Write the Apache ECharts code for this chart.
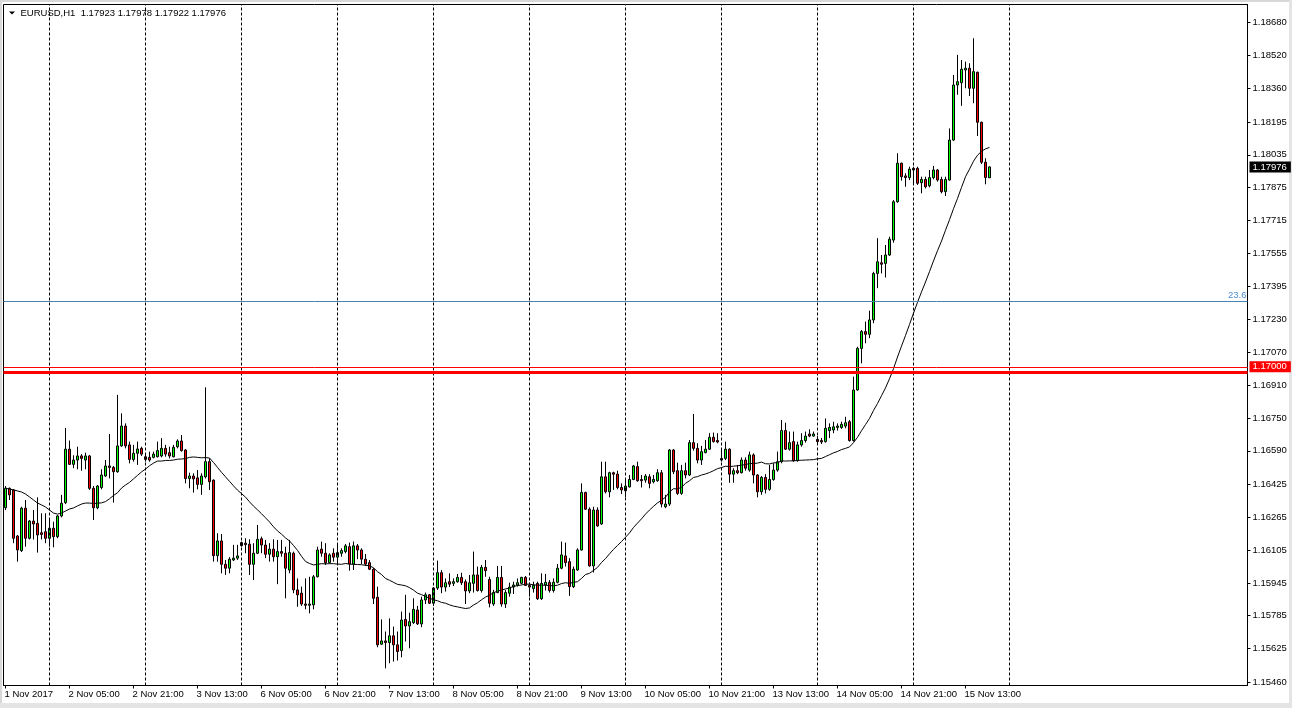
<!DOCTYPE html>
<html><head><meta charset="utf-8">
<script src="https://cdn.jsdelivr.net/npm/echarts@6/dist/echarts.min.js"></script>
<style>html,body{margin:0;padding:0;background:#fff;overflow:hidden}#chart{width:1292px;height:708px}</style>
</head><body><div id="chart"></div>
<script>
const TITLE = 'EURUSD,H1  1.17923 1.17978 1.17922 1.17976';
const OPEN = [1.16312,1.16407,1.16399,1.16174,1.16103,1.16310,1.16163,1.16247,1.16236,1.16190,1.16195,1.16163,1.16212,1.16171,1.16272,1.16337,1.16598,1.16524,1.16545,1.16565,1.16545,1.16565,1.16407,1.16312,1.16411,1.16467,1.16516,1.16509,1.16488,1.16614,1.16711,1.16619,1.16548,1.16578,1.16602,1.16561,1.16558,1.16558,1.16561,1.16565,1.16602,1.16581,1.16561,1.16610,1.16638,1.16594,1.16455,1.16467,1.16458,1.16426,1.16463,1.16537,1.16447,1.16078,1.16150,1.16036,1.16017,1.16057,1.16066,1.16142,1.16139,1.16134,1.16036,1.16090,1.16161,1.16130,1.16085,1.16110,1.16073,1.16098,1.16090,1.16008,1.16090,1.15911,1.15895,1.15842,1.15836,1.15838,1.15975,1.16110,1.16090,1.16044,1.16090,1.16071,1.16090,1.16098,1.16122,1.16037,1.16126,1.16106,1.16061,1.16044,1.16012,1.15875,1.15646,1.15662,1.15654,1.15687,1.15643,1.15615,1.15767,1.15735,1.15751,1.15813,1.15745,1.15862,1.15887,1.15846,1.15920,1.15995,1.15925,1.15951,1.15943,1.15951,1.15972,1.15951,1.15906,1.15943,1.15984,1.15908,1.16021,1.15962,1.15842,1.15898,1.15972,1.15842,1.15895,1.15925,1.15935,1.15943,1.15972,1.15933,1.15917,1.15943,1.15868,1.15935,1.15948,1.15908,1.15948,1.16017,1.16077,1.16049,1.15927,1.16008,1.16106,1.16387,1.16305,1.16028,1.16301,1.16233,1.16463,1.16390,1.16483,1.16476,1.16411,1.16395,1.16414,1.16450,1.16513,1.16450,1.16447,1.16463,1.16439,1.16444,1.16483,1.16317,1.16330,1.16594,1.16493,1.16382,1.16493,1.16472,1.16630,1.16602,1.16545,1.16581,1.16598,1.16656,1.16640,1.16553,1.16553,1.16598,1.16476,1.16493,1.16483,1.16545,1.16496,1.16570,1.16472,1.16390,1.16460,1.16402,1.16450,1.16496,1.16537,1.16689,1.16598,1.16635,1.16542,1.16619,1.16640,1.16672,1.16662,1.16646,1.16640,1.16635,1.16689,1.16692,1.16704,1.16704,1.16711,1.16732,1.16640,1.16887,1.17090,1.17172,1.17159,1.17229,1.17456,1.17508,1.17505,1.17546,1.17619,1.17806,1.17994,1.17932,1.17924,1.17969,1.17969,1.17899,1.17915,1.17884,1.17924,1.17961,1.17915,1.17855,1.17912,1.18107,1.18376,1.18387,1.18449,1.18458,1.18360,1.18438,1.18194,1.17999,1.17923];
const HIGH = [1.16418,1.16411,1.16403,1.16179,1.16317,1.16350,1.16252,1.16301,1.16363,1.16285,1.16285,1.16255,1.16244,1.16277,1.16375,1.16702,1.16640,1.16568,1.16610,1.16574,1.16581,1.16570,1.16418,1.16423,1.16500,1.16545,1.16672,1.16516,1.16863,1.16773,1.16724,1.16635,1.16619,1.16635,1.16610,1.16574,1.16586,1.16586,1.16635,1.16652,1.16619,1.16610,1.16619,1.16646,1.16667,1.16598,1.16483,1.16480,1.16496,1.16480,1.16900,1.16553,1.16450,1.16187,1.16184,1.16057,1.16071,1.16131,1.16131,1.16147,1.16163,1.16158,1.16139,1.16228,1.16171,1.16155,1.16139,1.16158,1.16155,1.16155,1.16122,1.16155,1.16098,1.15967,1.15927,1.15967,1.15975,1.15984,1.16122,1.16147,1.16139,1.16090,1.16114,1.16139,1.16114,1.16135,1.16142,1.16147,1.16135,1.16114,1.16086,1.16057,1.16017,1.15927,1.15767,1.15708,1.15772,1.15732,1.15708,1.15805,1.15887,1.15800,1.15870,1.15833,1.15878,1.15898,1.15891,1.15925,1.16054,1.16008,1.15967,1.15992,1.15967,1.15989,1.15995,1.15962,1.15984,1.16098,1.16025,1.16033,1.16057,1.15975,1.15911,1.16028,1.16028,1.15911,1.15946,1.15951,1.15967,1.15975,1.15979,1.15946,1.15951,1.15951,1.15992,1.15989,1.15959,1.15967,1.16037,1.16147,1.16142,1.16066,1.16025,1.16114,1.16431,1.16390,1.16314,1.16317,1.16314,1.16537,1.16537,1.16488,1.16488,1.16493,1.16431,1.16455,1.16472,1.16521,1.16537,1.16472,1.16476,1.16476,1.16472,1.16500,1.16496,1.16375,1.16598,1.16598,1.16532,1.16521,1.16532,1.16643,1.16770,1.16627,1.16614,1.16643,1.16676,1.16679,1.16676,1.16602,1.16635,1.16602,1.16505,1.16521,1.16558,1.16558,1.16586,1.16578,1.16476,1.16467,1.16476,1.16521,1.16529,1.16586,1.16740,1.16727,1.16684,1.16684,1.16635,1.16676,1.16684,1.16695,1.16684,1.16662,1.16653,1.16748,1.16724,1.16732,1.16724,1.16732,1.16756,1.16740,1.16952,1.17098,1.17180,1.17221,1.17274,1.17464,1.17628,1.17546,1.17595,1.17635,1.17814,1.18043,1.17997,1.17945,1.17977,1.17977,1.17977,1.17928,1.17928,1.17961,1.17981,1.17965,1.17928,1.17928,1.18164,1.18425,1.18523,1.18498,1.18490,1.18482,1.18604,1.18441,1.18197,1.18018,1.17978];
const LOW = [1.16301,1.16350,1.16139,1.16049,1.16096,1.16122,1.16157,1.16157,1.16093,1.16157,1.16139,1.16122,1.16119,1.16163,1.16265,1.16330,1.16521,1.16505,1.16500,1.16493,1.16500,1.16399,1.16252,1.16305,1.16402,1.16463,1.16455,1.16337,1.16483,1.16610,1.16602,1.16529,1.16537,1.16521,1.16565,1.16537,1.16537,1.16553,1.16558,1.16558,1.16561,1.16553,1.16558,1.16602,1.16586,1.16431,1.16407,1.16386,1.16402,1.16375,1.16455,1.16399,1.16049,1.16049,1.15992,1.15984,1.15992,1.16052,1.16057,1.16122,1.16090,1.15984,1.15959,1.16086,1.16090,1.16066,1.16049,1.16049,1.15939,1.16073,1.15870,1.15992,1.15895,1.15829,1.15833,1.15816,1.15797,1.15816,1.15972,1.16073,1.16033,1.16041,1.16049,1.16041,1.16073,1.16090,1.16005,1.16008,1.16061,1.16037,1.16028,1.16008,1.15842,1.15631,1.15643,1.15528,1.15553,1.15561,1.15566,1.15582,1.15659,1.15626,1.15745,1.15740,1.15729,1.15842,1.15842,1.15833,1.15911,1.15895,1.15903,1.15925,1.15930,1.15946,1.15935,1.15842,1.15895,1.15898,1.15903,1.15898,1.15975,1.15826,1.15833,1.15895,1.15829,1.15823,1.15878,1.15891,1.15927,1.15939,1.15930,1.15878,1.15898,1.15862,1.15862,1.15908,1.15898,1.15898,1.15943,1.16012,1.16025,1.15882,1.15920,1.16005,1.16103,1.16301,1.16025,1.15996,1.16220,1.16228,1.16382,1.16363,1.16399,1.16402,1.16379,1.16363,1.16411,1.16447,1.16439,1.16411,1.16434,1.16407,1.16431,1.16439,1.16314,1.16310,1.16321,1.16476,1.16375,1.16375,1.16455,1.16467,1.16591,1.16529,1.16521,1.16578,1.16594,1.16630,1.16627,1.16537,1.16545,1.16434,1.16434,1.16476,1.16480,1.16493,1.16488,1.16431,1.16363,1.16375,1.16382,1.16395,1.16444,1.16488,1.16529,1.16594,1.16591,1.16537,1.16537,1.16610,1.16630,1.16656,1.16659,1.16627,1.16623,1.16630,1.16652,1.16676,1.16689,1.16697,1.16700,1.16635,1.16635,1.16884,1.17017,1.17115,1.17140,1.17213,1.17384,1.17456,1.17436,1.17541,1.17606,1.17801,1.17909,1.17879,1.17912,1.17888,1.17888,1.17847,1.17871,1.17876,1.17915,1.17904,1.17847,1.17834,1.17909,1.18104,1.18328,1.18274,1.18360,1.18322,1.18287,1.18127,1.17990,1.17891,1.17922];
const CLOSE = [1.16407,1.16375,1.16163,1.16106,1.16310,1.16163,1.16247,1.16233,1.16179,1.16182,1.16163,1.16212,1.16171,1.16272,1.16334,1.16598,1.16524,1.16545,1.16565,1.16553,1.16565,1.16407,1.16312,1.16418,1.16472,1.16516,1.16509,1.16488,1.16614,1.16711,1.16614,1.16548,1.16578,1.16599,1.16574,1.16548,1.16545,1.16574,1.16591,1.16602,1.16574,1.16565,1.16607,1.16638,1.16591,1.16455,1.16467,1.16453,1.16426,1.16467,1.16537,1.16439,1.16078,1.16150,1.16036,1.16017,1.16061,1.16066,1.16077,1.16127,1.16132,1.16036,1.16090,1.16158,1.16130,1.16085,1.16110,1.16073,1.16098,1.16090,1.16017,1.16093,1.15911,1.15887,1.15842,1.15836,1.15842,1.15975,1.16106,1.16090,1.16044,1.16082,1.16071,1.16093,1.16103,1.16126,1.16037,1.16126,1.16106,1.16061,1.16037,1.16012,1.15870,1.15643,1.15662,1.15654,1.15687,1.15643,1.15610,1.15764,1.15735,1.15756,1.15816,1.15745,1.15862,1.15887,1.15846,1.15920,1.15995,1.15925,1.15946,1.15939,1.15951,1.15972,1.15946,1.15906,1.15946,1.15984,1.15908,1.16021,1.16005,1.15846,1.15898,1.15972,1.15842,1.15898,1.15925,1.15935,1.15946,1.15972,1.15933,1.15925,1.15933,1.15868,1.15943,1.15948,1.15908,1.15948,1.16017,1.16082,1.16044,1.15927,1.16012,1.16106,1.16387,1.16305,1.16028,1.16301,1.16223,1.16463,1.16390,1.16483,1.16476,1.16411,1.16399,1.16418,1.16450,1.16516,1.16444,1.16444,1.16467,1.16431,1.16450,1.16483,1.16330,1.16330,1.16594,1.16488,1.16382,1.16493,1.16472,1.16630,1.16602,1.16545,1.16586,1.16598,1.16656,1.16635,1.16633,1.16545,1.16598,1.16476,1.16493,1.16483,1.16545,1.16505,1.16570,1.16472,1.16390,1.16460,1.16402,1.16450,1.16496,1.16537,1.16689,1.16598,1.16630,1.16542,1.16619,1.16640,1.16662,1.16662,1.16672,1.16635,1.16633,1.16700,1.16704,1.16707,1.16711,1.16719,1.16727,1.16640,1.16887,1.17090,1.17172,1.17159,1.17229,1.17456,1.17513,1.17501,1.17546,1.17623,1.17806,1.17994,1.17928,1.17924,1.17965,1.17961,1.17896,1.17915,1.17879,1.17924,1.17961,1.17912,1.17855,1.17915,1.18107,1.18376,1.18392,1.18453,1.18458,1.18360,1.18441,1.18194,1.17999,1.17924,1.17976];
// Moving average (24) as drawn on the chart for the first bars (history before the visible window)
const MA_PERIOD = 24;
const MA_LEAD = [1.16408,1.16403,1.16399,1.16394,1.16389,1.16379,1.16365,1.16350,1.16335,1.16326,1.16316,1.16301,1.16286,1.16281,1.16286,1.16296,1.16306,1.16311,1.16321,1.16330,1.16335,1.16335,1.16333];
const X_LABELS = ['1 Nov 2017','2 Nov 05:00','2 Nov 21:00','3 Nov 13:00','6 Nov 05:00','6 Nov 21:00','7 Nov 13:00','8 Nov 05:00','8 Nov 21:00','9 Nov 13:00','10 Nov 05:00','10 Nov 21:00','13 Nov 13:00','14 Nov 05:00','14 Nov 21:00','15 Nov 13:00'];
const X_LABEL_STEP = 16;
const Y_TICKS = [1.15460,1.15625,1.15785,1.15945,1.16105,1.16265,1.16425,1.16590,1.16750,1.16910,1.17070,1.17230,1.17395,1.17555,1.17715,1.17875,1.18035,1.18195,1.18360,1.18520,1.18680];
const Y_MIN = 1.154443, Y_MAX = 1.187689;
const DAY_STARTS = [11,35,59,83,107,131,155,179,203,227,251];
const FIBO_236 = 1.17321;
const LEVEL_1700 = 1.17000;
const LEVEL_THICK = 1.16975;
const BID = 1.17976;
const TOTAL_SLOTS = 311;

const CATEGORIES = [];
(function(){
  const mon = ['Jan','Feb','Mar','Apr','May','Jun','Jul','Aug','Sep','Oct','Nov','Dec'];
  let t = Date.UTC(2017,10,1,13);
  while (CATEGORIES.length < TOTAL_SLOTS) {
    const d = new Date(t); const wd = d.getUTCDay();
    if (wd !== 0 && wd !== 6) CATEGORIES.push(d.getUTCDate()+' '+mon[d.getUTCMonth()]+' '+String(d.getUTCHours()).padStart(2,'0')+':00');
    t += 3600000;
  }
})();

const candles = OPEN.map((o,i)=>[o, CLOSE[i], LOW[i], HIGH[i]]);
const MA = CLOSE.map((c,i)=>{
  if (i < MA_LEAD.length) return MA_LEAD[i];
  let s = 0; for (let k=i-MA_PERIOD+1;k<=i;k++) s += CLOSE[k];
  return +(s/MA_PERIOD).toFixed(5);
});

const FONT = 'Liberation Sans';
const FS = 9.5;
const showLab = (i)=> i % X_LABEL_STEP === 0 && i/X_LABEL_STEP < X_LABELS.length;

const lines = DAY_STARTS.map(i=>({xAxis: CATEGORIES[i], lineStyle:{color:'#000', width:1, type:[3,2]}, label:{show:false}}));
lines.push({yAxis: FIBO_236, lineStyle:{color:'#4682b4', width:1, type:'solid'},
  label:{show:true, position:'insideEndTop', formatter:'23.6', color:'#4a8fd0', fontSize:FS, fontFamily:FONT, distance:[1,1]}});
lines.push({yAxis: LEVEL_1700, lineStyle:{color:'#ff0000', width:1, type:'solid'},
  label:{show:true, position:'end', formatter: LEVEL_1700.toFixed(5), backgroundColor:'#ff0000', color:'#fff', fontSize:FS, fontFamily:FONT, padding:[1,4,0,3], distance:2}});
lines.push({yAxis: LEVEL_THICK, lineStyle:{color:'#ff0000', width:3, type:'solid'}, label:{show:false}});
lines.push({yAxis: BID, lineStyle:{color:'rgba(0,0,0,0)', width:1}, label:{show:true, position:'end', formatter: BID.toFixed(5), backgroundColor:'#000', color:'#fff', fontSize:FS, fontFamily:FONT, padding:[1,4,0,3], distance:2}});

const chart = echarts.init(document.getElementById('chart'), null, {renderer:'canvas'});
chart.setOption({
  animation:false,
  backgroundColor:'#fff',
  grid:{left:3.5, top:4.5, width:1244, height:681, show:true, borderColor:'#000', borderWidth:1, backgroundColor:'#fff'},
  xAxis:{type:'category', data:CATEGORIES, boundaryGap:true,
    axisLine:{show:true, lineStyle:{color:'#000', width:1}},
    axisTick:{show:true, alignWithLabel:true, interval:(i)=>showLab(i), length:3, lineStyle:{color:'#000'}},
    axisLabel:{show:true, interval:(i)=>showLab(i), formatter:(v,i)=>X_LABELS[i/X_LABEL_STEP], align:'left', margin:4, color:'#000', fontSize:FS, fontFamily:FONT, padding:[0,0,0,-1]},
    splitLine:{show:false}},
  yAxis:{type:'value', position:'right', min:Y_MIN, max:Y_MAX, scale:true,
    axisLine:{show:true, lineStyle:{color:'#000', width:1}},
    axisTick:{show:true, customValues:Y_TICKS, length:3, lineStyle:{color:'#000'}},
    axisLabel:{show:true, customValues:Y_TICKS, formatter:(v)=>v.toFixed(5), color:'#000', fontSize:FS, fontFamily:FONT, margin:5},
    splitLine:{show:false}},
  series:[
    {type:'line', data:[], z:1, silent:true,
      markLine:{silent:true, precision:5, symbol:['none','none'], animation:false, data:lines}},
    {type:'candlestick', data:candles, barWidth:2, z:3, silent:true,
      itemStyle:{color:'#00ff00', color0:'#ff0000', borderColor:'#000', borderColor0:'#000', borderColorDoji:'#000', borderWidth:1}},
    {type:'line', data:MA, z:4, silent:true, showSymbol:false, symbol:'none', smooth:false,
      lineStyle:{color:'#000', width:1}}
  ],
  graphic:[
    {type:'rect', shape:{x:0,y:0,width:1292,height:2}, style:{fill:'#d8d8d8'}, silent:true},
    {type:'rect', shape:{x:0,y:0,width:2,height:708}, style:{fill:'#d8d8d8'}, silent:true},
    {type:'rect', shape:{x:1289,y:0,width:3,height:708}, style:{fill:'#e4e4e4'}, silent:true},
    {type:'rect', shape:{x:0,y:703,width:1292,height:5}, style:{fill:'#e4e4e4'}, silent:true},
    {type:'polygon', shape:{points:[[9,11.5],[15,11.5],[12,14.6]]}, style:{fill:'#000'}, silent:true},
    {type:'text', x:20.5, y:13.2, style:{text:TITLE, font:FS+'px "'+FONT+'"', fill:'#000', verticalAlign:'middle', align:'left'}, silent:true}
  ]
});
</script></body></html>
